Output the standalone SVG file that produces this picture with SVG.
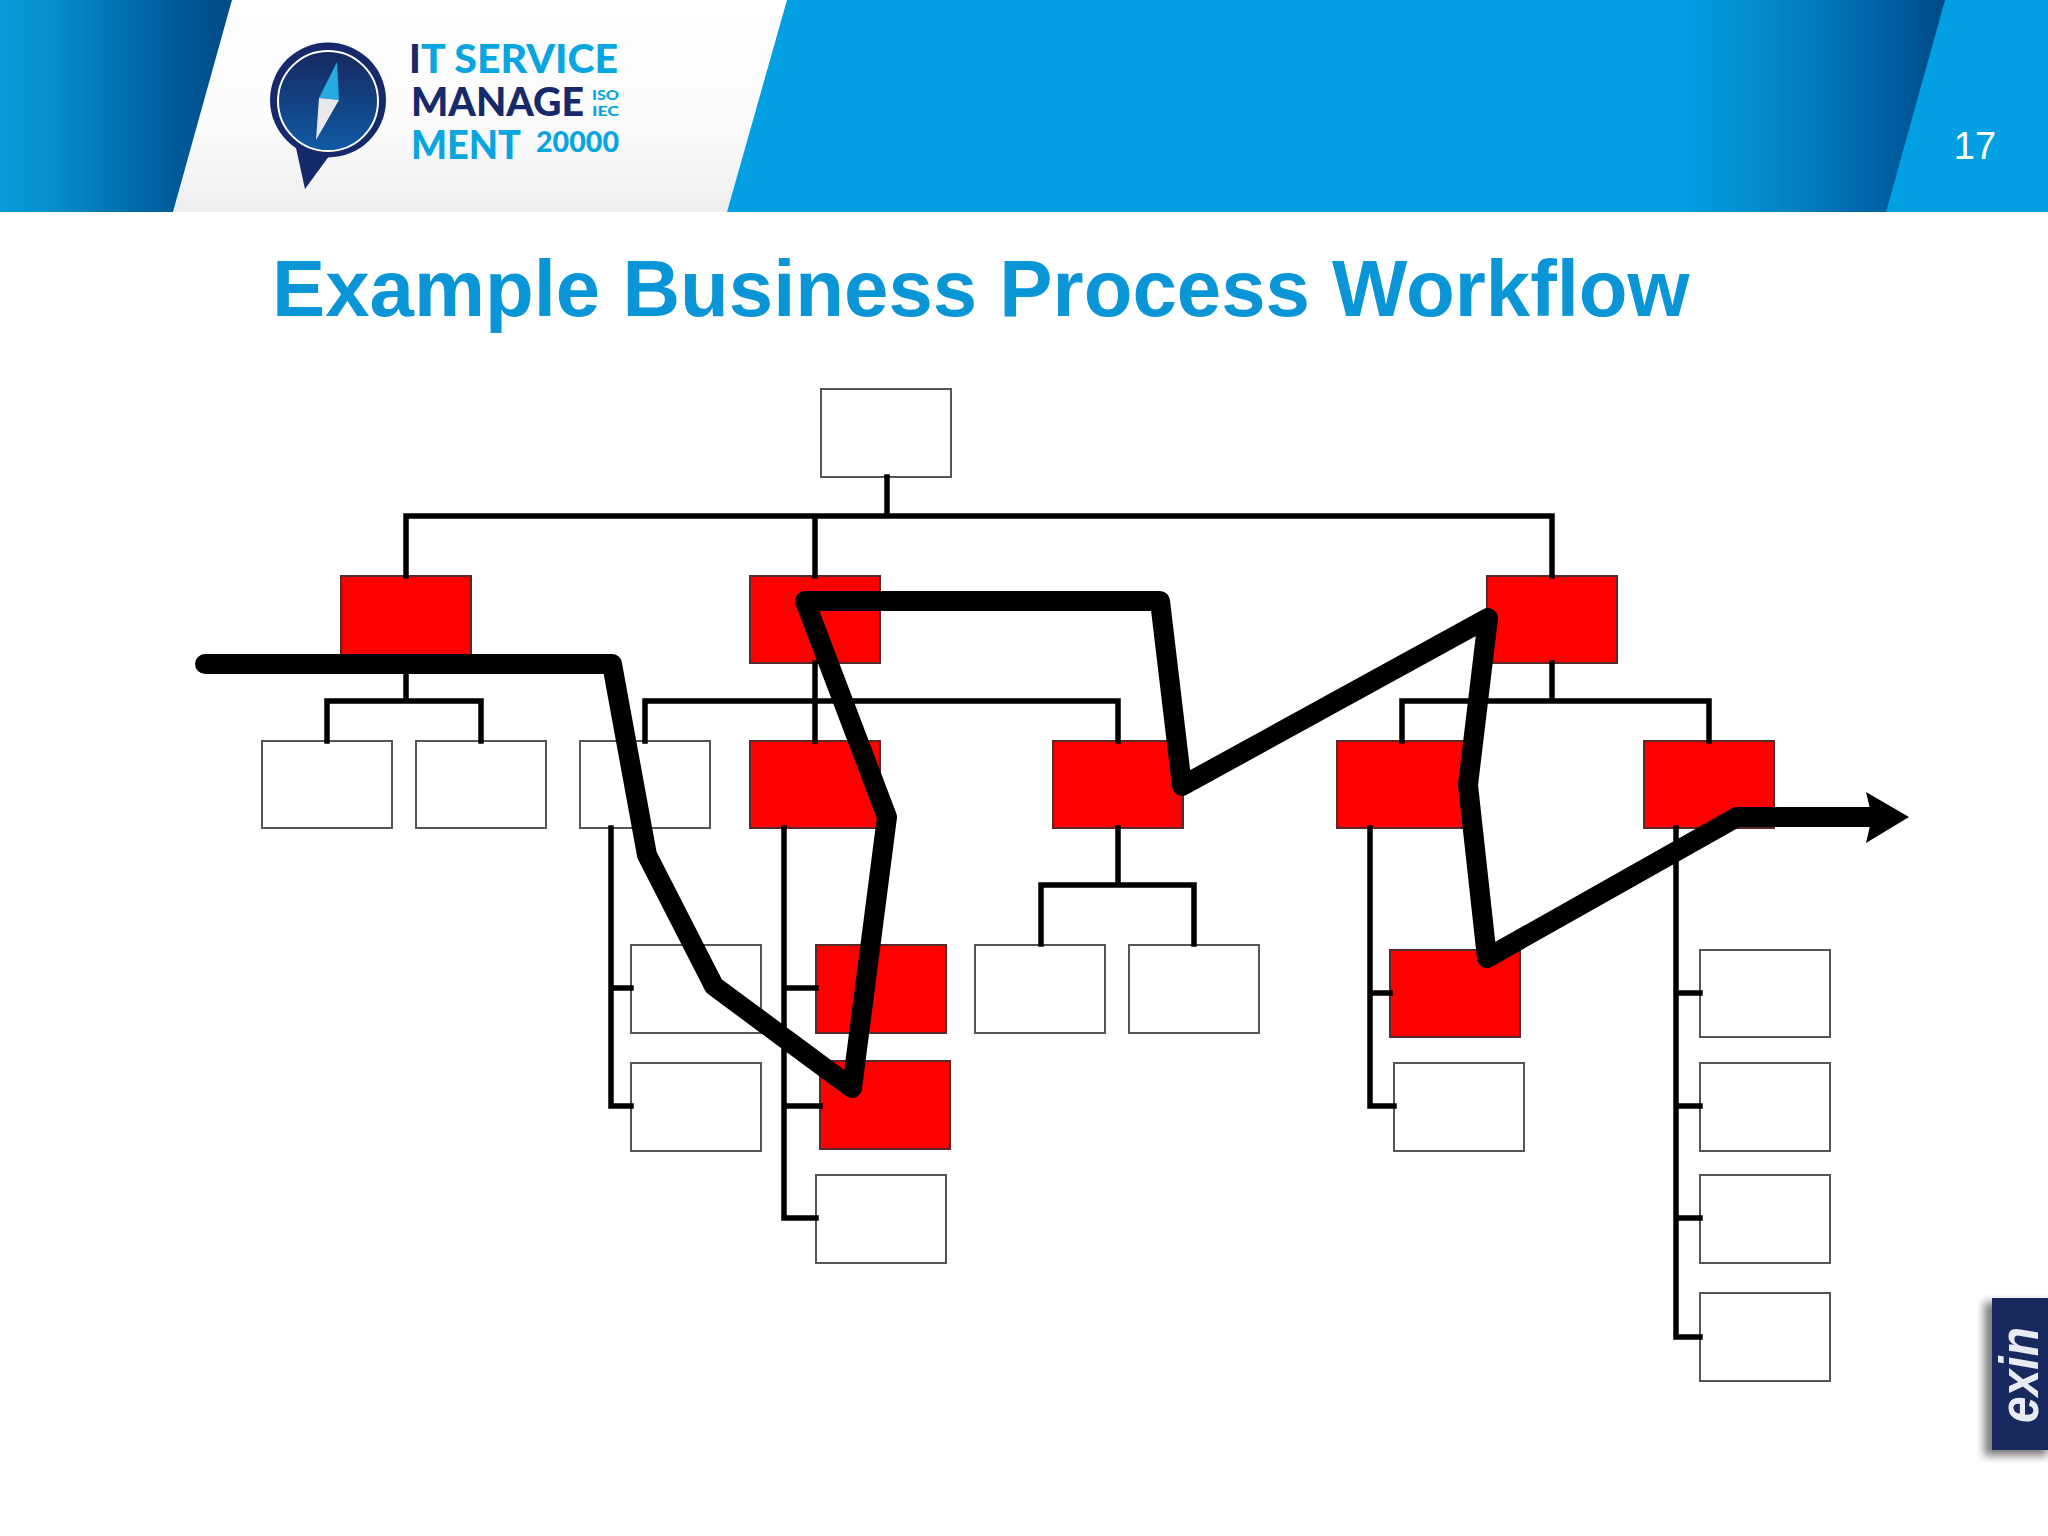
<svg xmlns="http://www.w3.org/2000/svg" width="2048" height="1536" viewBox="0 0 2048 1536">
<style>
.b{fill:#fff;stroke:#555;stroke-width:2}
.r{fill:#f00;stroke:#5a2a2a;stroke-width:2}
.c{fill:none;stroke:#000;stroke-width:5.5;stroke-linecap:square}
.t{fill:none;stroke:#000;stroke-width:20;stroke-linejoin:round;stroke-linecap:round}
.lg{font-family:"Lato","Liberation Sans",sans-serif;font-weight:900}
</style>
<defs>
<linearGradient id="gl" x1="0" x2="1" y1="0" y2="0"><stop offset="0" stop-color="#0a9ad8"/><stop offset="0.2" stop-color="#0590cf"/><stop offset="0.75" stop-color="#005a9a"/><stop offset="1" stop-color="#004a86"/></linearGradient>
<linearGradient id="gr" gradientUnits="userSpaceOnUse" x1="1680" x2="1945" y1="0" y2="0"><stop offset="0" stop-color="#029fe3"/><stop offset="0.35" stop-color="#0288c8"/><stop offset="0.75" stop-color="#0062a6"/><stop offset="1" stop-color="#004a86"/></linearGradient>
<linearGradient id="gw" x1="0" x2="0" y1="0" y2="1"><stop offset="0" stop-color="#fff"/><stop offset="0.6" stop-color="#fbfbfb"/><stop offset="1" stop-color="#eeeeef"/></linearGradient>
<linearGradient id="gc" x1="0" x2="0" y1="0" y2="1"><stop offset="0" stop-color="#16295f"/><stop offset="1" stop-color="#0f5ba6"/></linearGradient>
<filter id="sh" x="-30%" y="-20%" width="160%" height="140%"><feGaussianBlur stdDeviation="4"/></filter>
</defs>
<rect width="2048" height="1536" fill="#fff"/>
<g id="header">
<rect width="2048" height="212" fill="#029fe3"/>
<polygon points="0,0 232,0 173,212 0,212" fill="url(#gl)"/>
<polygon points="787,0 1945,0 1886,212 727,212" fill="url(#gr)"/>
<polygon points="232,0 787,0 727,212 173,212" fill="url(#gw)"/>
<g id="logo">
<polygon points="296,148 305,189 332,152" fill="#16296a"/>
<ellipse cx="328" cy="100" rx="58" ry="57.5" fill="#16296a"/>
<ellipse cx="328" cy="101" rx="50" ry="50" fill="url(#gc)" stroke="#fff" stroke-width="2"/>
<polygon points="337,62 319,98 339,100" fill="#27a9e1"/>
<polygon points="319,98 339,100 316,140" fill="#e8e8ea"/>
<text class="lg" x="409" y="73" font-size="39" fill="#08a5e0"><tspan fill="#16296a">I</tspan><tspan x="421" textLength="197" lengthAdjust="spacingAndGlyphs">T SERVICE</tspan></text>
<text class="lg" x="411" y="116" font-size="39" fill="#16296a" textLength="173" lengthAdjust="spacingAndGlyphs">MANAGE</text>
<text class="lg" x="592" y="100" font-size="13" fill="#08a5e0" textLength="27" lengthAdjust="spacingAndGlyphs">ISO</text>
<text class="lg" x="592" y="116" font-size="13" fill="#08a5e0" textLength="27" lengthAdjust="spacingAndGlyphs">IEC</text>
<text class="lg" x="411" y="159" font-size="39" fill="#08a5e0" textLength="110" lengthAdjust="spacingAndGlyphs">MENT</text>
<text class="lg" x="536" y="152" font-size="28" fill="#08a5e0" textLength="83" lengthAdjust="spacingAndGlyphs">20000</text>
</g>
<text x="1975" y="159" text-anchor="middle" font-family="Liberation Sans,sans-serif" font-size="38" fill="#fff">17</text>
</g>
<text id="title" x="272" y="316" font-family="Liberation Sans,sans-serif" font-weight="700" font-size="79.8" fill="#0a96d6">Example Business Process Workflow</text>
<g id="nodes">
<rect id="n0" class="b" x="821" y="389" width="130" height="88"/>
<rect id="n1" class="r" x="341" y="576" width="130" height="87"/>
<rect id="n2" class="r" x="750" y="576" width="130" height="87"/>
<rect id="n3" class="r" x="1487" y="576" width="130" height="87"/>
<rect id="n4" class="b" x="262" y="741" width="130" height="87"/>
<rect id="n5" class="b" x="416" y="741" width="130" height="87"/>
<rect id="n6" class="b" x="580" y="741" width="130" height="87"/>
<rect id="n7" class="r" x="750" y="741" width="130" height="87"/>
<rect id="n8" class="r" x="1053" y="741" width="130" height="87"/>
<rect id="n9" class="r" x="1337" y="741" width="130" height="87"/>
<rect id="n10" class="r" x="1644" y="741" width="130" height="87"/>
<rect id="n11" class="b" x="631" y="945" width="130" height="88"/>
<rect id="n12" class="r" x="816" y="945" width="130" height="88"/>
<rect id="n13" class="b" x="975" y="945" width="130" height="88"/>
<rect id="n14" class="b" x="1129" y="945" width="130" height="88"/>
<rect id="n15" class="r" x="1390" y="950" width="130" height="87"/>
<rect id="n16" class="b" x="1700" y="950" width="130" height="87"/>
<rect id="n17" class="b" x="631" y="1063" width="130" height="88"/>
<rect id="n18" class="r" x="820" y="1061" width="130" height="88"/>
<rect id="n19" class="b" x="1394" y="1063" width="130" height="88"/>
<rect id="n20" class="b" x="1700" y="1063" width="130" height="88"/>
<rect id="n21" class="b" x="816" y="1175" width="130" height="88"/>
<rect id="n22" class="b" x="1700" y="1175" width="130" height="88"/>
<rect id="n23" class="b" x="1700" y="1293" width="130" height="88"/>
</g>
<g id="connectors">
<path class="c" d="M887 477V516M406 576V516H1552V576M815 516V576"/>
<path class="c" d="M406 663V701M327 741V701H481V741"/>
<path class="c" d="M645 741V701H1118V741M815 663V741"/>
<path class="c" d="M1118 828V885M1041 944V885H1194V944"/>
<path class="c" d="M1552 663V701M1402 741V701H1709V741"/>
<path class="c" d="M611 828V1106H631M611 988H631"/>
<path class="c" d="M784 828V1218H816M784 988H816M784 1106H820"/>
<path class="c" d="M1370 828V1106H1394M1370 993H1390"/>
<path class="c" d="M1676 828V1337H1700M1676 993H1700M1676 1106H1700M1676 1218H1700"/>
<path class="t" d="M205 664H612L647 855L714 986L852 1088L887 817L805 601H1160L1182 786L1488 618L1468 785L1487 958L1737 817H1870"/>
<polygon points="1909,817 1866,792 1872,817 1866,843"/>
</g>
<g id="exin">
<rect x="1984" y="1302" width="64" height="154" fill="#000" opacity=".5" filter="url(#sh)"/>
<rect x="1992" y="1298" width="56" height="152" fill="#17295f"/>
<text transform="translate(2038 1423) rotate(-90)" font-family="Liberation Sans,sans-serif" font-weight="700" font-style="italic" font-size="56" fill="#e8ebf2" textLength="96" lengthAdjust="spacingAndGlyphs">exin</text>
</g>
</svg>
